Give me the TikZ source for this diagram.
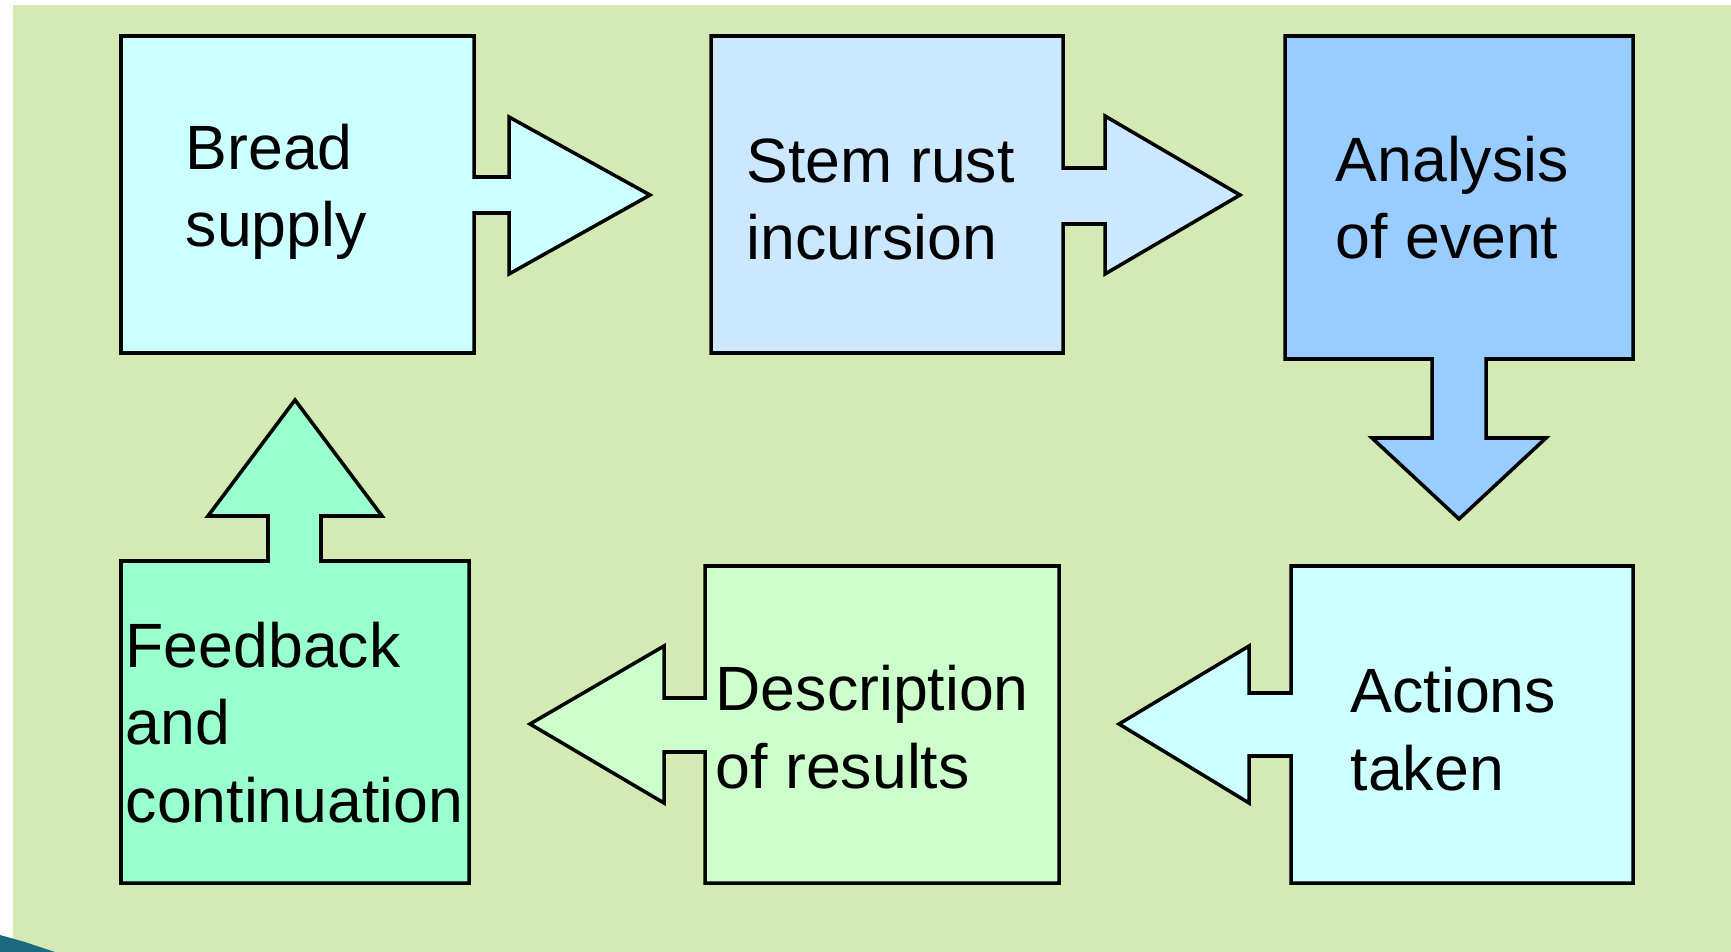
\documentclass[tikz,border=0pt]{standalone}
\usepackage{fontspec}
\setmainfont{Liberation Sans}
\definecolor{bgreen}{RGB}{211,234,180}
\definecolor{cA}{HTML}{CCFFFF}
\definecolor{cB}{HTML}{CCE8FF}
\definecolor{cC}{HTML}{99CCFF}
\definecolor{cD}{HTML}{CCFFCC}
\definecolor{cE}{HTML}{99FFCC}
\definecolor{swoosh}{RGB}{28,105,125}
\tikzset{
  blockshape/.style={draw=black, line width=1pt, line join=miter},
  label/.style={anchor=base west, inner sep=0pt, align=left, font=\fontsize{17.8}{21.9}\selectfont}
}
\begin{document}
\begin{tikzpicture}[x=0.01cm, y=-0.01cm]
\useasboundingbox (0,0) rectangle (1731,952);
\fill[bgreen] (13,5) rectangle (1731,952);
\fill[swoosh] (0,935) -- (25,942) -- (55,952) -- (0,952) -- cycle;
% Bread supply
\filldraw[blockshape, fill=cA] (121,36) -- (474,36) -- (474,177) -- (509,177) -- (509,117) -- (650,195) -- (509,274) -- (509,213) -- (474,213) -- (474,353) -- (121,353) -- cycle;
% Stem rust incursion
\filldraw[blockshape, fill=cB] (711,36) -- (1063,36) -- (1063,168) -- (1105,168) -- (1105,116) -- (1240,195) -- (1105,274) -- (1105,224) -- (1063,224) -- (1063,353) -- (711,353) -- cycle;
% Analysis of event
\filldraw[blockshape, fill=cC] (1285,36) -- (1633,36) -- (1633,359) -- (1486,359) -- (1486,438) -- (1546,438) -- (1459,519) -- (1372,438) -- (1432,438) -- (1432,359) -- (1285,359) -- cycle;
% Actions taken
\filldraw[blockshape, fill=cA] (1291,566) -- (1633,566) -- (1633,883) -- (1291,883) -- (1291,756) -- (1249,756) -- (1249,803) -- (1119,724) -- (1249,646) -- (1249,693) -- (1291,693) -- cycle;
% Description of results
\filldraw[blockshape, fill=cD] (705,566) -- (1059,566) -- (1059,883) -- (705,883) -- (705,752) -- (664,752) -- (664,803) -- (530,724) -- (664,646) -- (664,698) -- (705,698) -- cycle;
% Feedback and continuation
\filldraw[blockshape, fill=cE] (121,561) -- (268,561) -- (268,516) -- (208,516) -- (295,400) -- (382,516) -- (321,516) -- (321,561) -- (469,561) -- (469,883) -- (121,883) -- cycle;
% labels (anchored at the baseline of the last line)
\node[label] (t1) at (185,247) {Bread\\supply};
\node[label] (t2) at (746,260) {Stem rust\\incursion};
\node[label] (t3) at (1335,259) {Analysis\\of event};
\node[label] (t4) at (1350,790) {Actions\\taken};
\node[label] (t5) at (715,788) {Description\\of results};
\node[label] (t6) at (125,822) {Feedback\\and\\continuation};
\end{tikzpicture}
\end{document}
